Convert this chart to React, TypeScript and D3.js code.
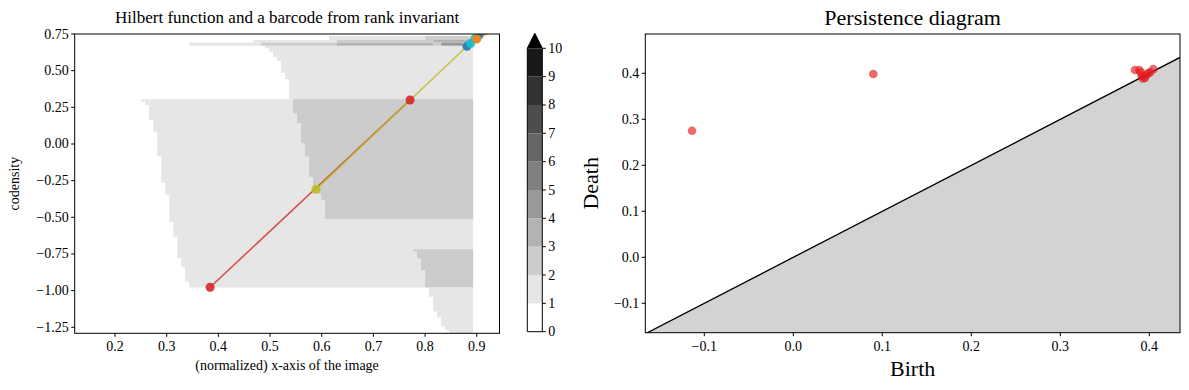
import * as d3 from 'd3'

// ---- left panel: Hilbert function, staircase regions ----
// each row: [top codensity, left x]; a row runs down to the next row's top (or to `bottom`)
type Region = { level: number; right: number; bottom: number; rows: number[][] }

const upperLight: Region = {
  level: 1, right: 0.893, bottom: 0.305,
  rows: [[0.670, 0.4903], [0.652, 0.498], [0.629, 0.5058], [0.595, 0.5135], [0.566, 0.5213], [0.486, 0.529], [0.441, 0.5368]],
}
const middleLight: Region = {
  level: 1, right: 0.893, bottom: -0.979,
  rows: [[0.305, 0.2503], [0.288, 0.2581], [0.266, 0.2657], [0.164, 0.2741], [0.084, 0.2818], [-0.082, 0.2895],
    [-0.264, 0.2973], [-0.347, 0.305], [-0.53, 0.3129], [-0.632, 0.3205], [-0.779, 0.3283], [-0.84, 0.3355], [-0.938, 0.3432]],
}
const middleDark: Region = {
  level: 2, right: 0.893, bottom: -0.511,
  rows: [[0.305, 0.5445], [0.209, 0.5522], [0.141, 0.56], [0.005, 0.5677], [-0.086, 0.5755], [-0.223, 0.5832],
    [-0.3, 0.591], [-0.34, 0.5987], [-0.382, 0.6065]],
}
const lowerDark: Region = {
  level: 2, right: 0.893, bottom: -0.979,
  rows: [[-0.718, 0.7767], [-0.734, 0.7845], [-0.779, 0.7922], [-0.859, 0.8]],
}
const lowerLight: Region = {
  level: 1, right: 0.893, bottom: -1.35,
  rows: [[-0.979, 0.8077], [-1.041, 0.8154], [-1.143, 0.8232], [-1.181, 0.8309], [-1.245, 0.8387], [-1.268, 0.8464]],
}
const regions = [upperLight, middleLight, middleDark, lowerDark, lowerLight]

// thin strips along the top: [x0, x1, level]
const stripTops = [0.736, 0.709, 0.691]
const stripBottoms = [0.709, 0.691, 0.670]
const stripSegments = [
  [[0.6141, 0.8, 1], [0.8, 0.893, 2]],
  [[0.4677, 0.629, 1], [0.629, 0.816, 2], [0.816, 0.893, 3]],
  [[0.343, 0.4825, 1], [0.4825, 0.629, 2], [0.629, 0.816, 3], [0.816, 0.831, 2], [0.831, 0.874, 4], [0.874, 0.893, 2]],
]

// barcode from the rank invariant
const barColors = ['#d62728', '#bcbd22', '#1f77b4', '#17becf', '#ff7f0e']
const barBirthX = [0.384, 0.589, 0.881, 0.888, 0.9]
const barBirthY = [-0.977, -0.309, 0.666, 0.685, 0.715]
const barDeathX = [0.771, 0.915, 0.905, 0.897, 0.915]
const barDeathY = [0.3, 0.78, 0.745, 0.72, 0.77]

const leftXTicks = [0.2, 0.3, 0.4, 0.5, 0.6, 0.7, 0.8, 0.9]
const leftYTicks = [0.75, 0.5, 0.25, 0, -0.25, -0.5, -0.75, -1, -1.25]
const cbarTicks = [0, 1, 2, 3, 4, 5, 6, 7, 8, 9, 10]

// ---- right panel: persistence diagram ----
const birth = [-0.1138, 0.0899, 0.3839, 0.3888, 0.3903, 0.3915, 0.3926, 0.3963, 0.4008, 0.4045, 0.3952, 0.3989]
const death = [0.275, 0.3985, 0.407, 0.407, 0.402, 0.394, 0.389, 0.396, 0.402, 0.409, 0.39, 0.4]
const pdTicks = [-0.1, 0, 0.1, 0.2, 0.3, 0.4]

const FONT = '"Liberation Serif", "Times New Roman", serif'
const minus = (s: string) => s.replace('-', '\u2212')
const grey = (level: number) => {
  const v = Math.round(255 * (1 - level / 10))
  return d3.rgb(v, v, v).formatHex()
}

export default function App() {
  // left axes
  const lx = d3.scaleLinear().domain([0.122, 0.944]).range([74.7, 499.5])
  const ly = d3.scaleLinear().domain([-1.291, 0.75]).range([333.3, 34])
  // colorbar
  const cb = d3.scaleLinear().domain([0, 10]).range([331.7, 48.3])
  const cbX0 = 527.3
  const cbX1 = 542.3
  // right axes
  const px = d3.scaleLinear().domain([-0.1663, 0.4345]).range([645.3, 1180])
  const py = d3.scaleLinear().domain([-0.1639, 0.4854]).range([332.7, 34])

  const regionPath = (r: Region) => {
    let p = `M${lx(r.rows[0][1])},${ly(r.rows[0][0])}`
    r.rows.forEach((row, i) => {
      const nextTop = i + 1 < r.rows.length ? r.rows[i + 1][0] : r.bottom
      p += `V${ly(nextTop)}`
      if (i + 1 < r.rows.length) p += `H${lx(r.rows[i + 1][1])}`
    })
    p += `H${lx(r.right)}V${ly(r.rows[0][0])}Z`
    return p
  }

  const [lxa, lxb] = lx.range()
  const [lyb, lya] = ly.range()
  const [pxa, pxb] = px.range()
  const [pyb, pya] = py.range()
  const [pd0, pd1] = px.domain()
  const ymin = py.domain()[0]

  return (
    <svg width={1189} height={390} style={{ position: 'absolute', left: 0, top: 0, background: '#fff' }} fontFamily={FONT}>
      <defs>
        <clipPath id="clipL"><rect x={lxa} y={lya} width={lxb - lxa} height={lyb - lya} /></clipPath>
        <clipPath id="clipR"><rect x={pxa} y={pya} width={pxb - pxa} height={pyb - pya} /></clipPath>
      </defs>

      {/* ---------- left panel ---------- */}
      <g clipPath="url(#clipL)">
        {regions.map((r, i) => (
          <path key={i} d={regionPath(r)} fill={grey(r.level)} />
        ))}
        {stripSegments.map((segs, i) =>
          segs.map((s, j) => (
            <rect key={`${i}-${j}`} x={lx(s[0])} width={lx(s[1]) - lx(s[0])}
              y={ly(stripTops[i])} height={ly(stripBottoms[i]) - ly(stripTops[i])} fill={grey(s[2])} />
          ))
        )}
        {barColors.map((c, i) => (
          <line key={i} x1={lx(barBirthX[i])} y1={ly(barBirthY[i])} x2={lx(barDeathX[i])} y2={ly(barDeathY[i])}
            stroke={c} strokeWidth={1.6} strokeOpacity={0.8} />
        ))}
        {barColors.map((c, i) => (
          <g key={i} fill={c} fillOpacity={0.9}>
            <circle cx={lx(barBirthX[i])} cy={ly(barBirthY[i])} r={4.5} />
            <circle cx={lx(barDeathX[i])} cy={ly(barDeathY[i])} r={4.5} />
          </g>
        ))}
      </g>
      <rect x={lxa} y={lya} width={lxb - lxa} height={lyb - lya} fill="none" stroke="#000" strokeWidth={1} />
      {leftXTicks.map(t => (
        <g key={t}>
          <line x1={lx(t)} x2={lx(t)} y1={lyb} y2={lyb + 3.5} stroke="#000" />
          <text x={lx(t)} y={lyb + 18} fontSize={14} textAnchor="middle">{d3.format('.1f')(t)}</text>
        </g>
      ))}
      {leftYTicks.map(t => (
        <g key={t}>
          <line x1={lxa - 3.5} x2={lxa} y1={ly(t)} y2={ly(t)} stroke="#000" />
          <text x={lxa - 6} y={ly(t) + 4.5} fontSize={14} textAnchor="end">{minus(d3.format('.2f')(t))}</text>
        </g>
      ))}
      <text x={(lxa + lxb) / 2} y={23} fontSize={17} textAnchor="middle">Hilbert function and a barcode from rank invariant</text>
      <text x={(lxa + lxb) / 2} y={370} fontSize={14} textAnchor="middle">(normalized) x-axis of the image</text>
      <text transform={`translate(19,${(lya + lyb) / 2}) rotate(-90)`} fontSize={14} textAnchor="middle">codensity</text>

      {/* colorbar */}
      {cbarTicks.slice(0, -1).map(t => (
        <rect key={t} x={cbX0} width={cbX1 - cbX0} y={cb(t + 1)} height={cb(t) - cb(t + 1)} fill={grey(t)} />
      ))}
      <path d={`M${cbX0},${cb(10)}L${(cbX0 + cbX1) / 2},${cb(10) - 15}L${cbX1},${cb(10)}Z`} fill="#000" />
      <path d={`M${cbX0},${cb(0)}V${cb(10)}L${(cbX0 + cbX1) / 2},${cb(10) - 15}L${cbX1},${cb(10)}V${cb(0)}Z`}
        fill="none" stroke="#000" strokeWidth={1} />
      {cbarTicks.map(t => (
        <g key={t}>
          <line x1={cbX1} x2={cbX1 + 3.5} y1={cb(t)} y2={cb(t)} stroke="#000" />
          <text x={cbX1 + 6} y={cb(t) + 4.5} fontSize={14}>{t}</text>
        </g>
      ))}

      {/* ---------- right panel ---------- */}
      <g clipPath="url(#clipR)">
        <path d={`M${px(pd0)},${py(pd0)}L${px(pd1)},${py(pd1)}L${px(pd1)},${py(ymin) + 5}L${px(pd0)},${py(ymin) + 5}Z`} fill="#d3d3d3" />
        <line x1={px(pd0)} y1={py(pd0)} x2={px(pd1)} y2={py(pd1)} stroke="#000" strokeWidth={1.3} />
        {birth.map((b, i) => (
          <circle key={i} cx={px(b)} cy={py(death[i])} r={4.3} fill="#e31a1c" fillOpacity={0.65} />
        ))}
      </g>
      <rect x={pxa} y={pya} width={pxb - pxa} height={pyb - pya} fill="none" stroke="#000" strokeWidth={1} />
      {pdTicks.map(t => (
        <g key={t}>
          <line x1={px(t)} x2={px(t)} y1={pyb} y2={pyb + 3.5} stroke="#000" />
          <text x={px(t)} y={pyb + 18} fontSize={14} textAnchor="middle">{minus(d3.format('.1f')(t))}</text>
          <line x1={pxa - 3.5} x2={pxa} y1={py(t)} y2={py(t)} stroke="#000" />
          <text x={pxa - 6} y={py(t) + 4.5} fontSize={14} textAnchor="end">{minus(d3.format('.1f')(t))}</text>
        </g>
      ))}
      <text x={(pxa + pxb) / 2} y={25} fontSize={22} textAnchor="middle">Persistence diagram</text>
      <text x={(pxa + pxb) / 2} y={376} fontSize={22} textAnchor="middle">Birth</text>
      <text transform={`translate(598,${(pya + pyb) / 2}) rotate(-90)`} fontSize={22} textAnchor="middle">Death</text>
    </svg>
  )
}
